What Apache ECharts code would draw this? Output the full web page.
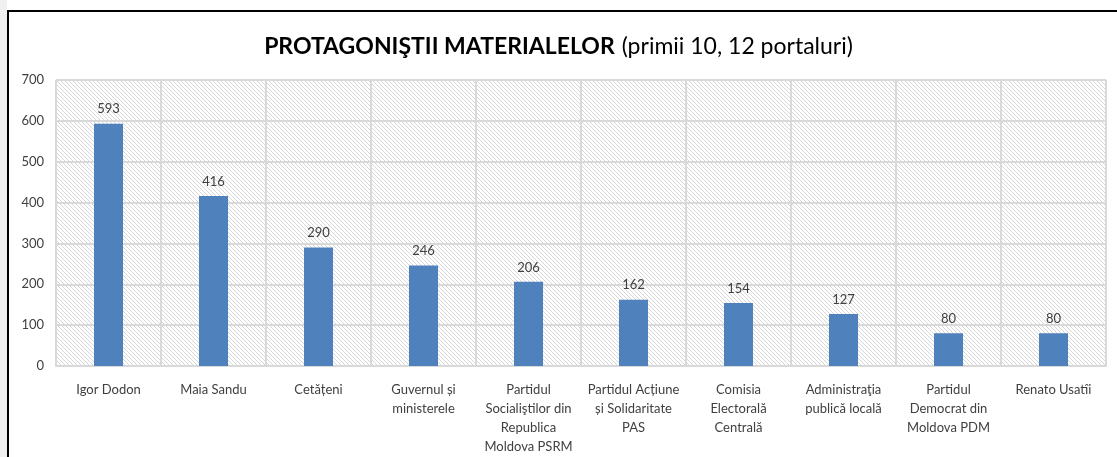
<!DOCTYPE html>
<html>
<head>
<meta charset="utf-8">
<script src="https://cdn.jsdelivr.net/npm/echarts@6/dist/echarts.min.js"></script>
<style>
  html, body { margin: 0; padding: 0; background: #fff; }
  #chart { width: 1117px; height: 457px; }
</style>
</head>
<body>
<div id="chart"></div>
<script>
const categories = [
  'Igor Dodon',
  'Maia Sandu',
  'Cetățeni',
  'Guvernul și\nministerele',
  'Partidul\nSocialiştilor din\nRepublica\nMoldova PSRM',
  'Partidul Acțiune\nși Solidaritate\nPAS',
  'Comisia\nElectorală\nCentrală',
  'Administraţia\npublică locală',
  'Partidul\nDemocrat din\nMoldova PDM',
  'Renato Usatîi'
];
const values = [593, 416, 290, 246, 206, 162, 154, 127, 80, 80];
const yTicks = { min: 0, max: 700, interval: 100 };

// hatched background of the plot area
function hatch() {
  const c = document.createElement('canvas');
  c.width = 4; c.height = 4;
  const g = c.getContext('2d');
  g.fillStyle = '#ffffff';
  g.fillRect(0, 0, 4, 4);
  g.strokeStyle = '#d6d6d6';
  g.lineWidth = 1;
  g.beginPath();
  g.moveTo(-1, -1); g.lineTo(5, 5);
  g.moveTo(-1, 3); g.lineTo(1, 5);
  g.moveTo(3, -1); g.lineTo(5, 1);
  g.stroke();
  return c;
}

const font = 'Lato, "Open Sans", sans-serif';
const chart = echarts.init(document.getElementById('chart'));
chart.setOption({
  animation: false,
  textStyle: { fontFamily: font },
  title: {
    text: '{b|PROTAGONIŞTII MATERIALELOR}{n|(primii 10, 12 portaluri)}',
    left: 'center',
    top: 30,
    textStyle: {
      rich: {
        b: { fontFamily: font, fontSize: 23, fontWeight: 'bold', color: '#000' },
        n: { fontFamily: font, fontSize: 23, fontWeight: 'normal', color: '#000', padding: [0, 0, 0, 7] }
      }
    }
  },
  graphic: [
    { type: 'rect', shape: { x: 0, y: 0, width: 7, height: 457 }, style: { fill: '#f0f0f0' }, silent: true },
    { type: 'rect', shape: { x: 8, y: 11, width: 1120, height: 470 }, style: { fill: 'none', stroke: '#000', lineWidth: 2 }, silent: true }
  ],
  grid: {
    left: 56, right: 11, top: 80, bottom: 91,
    show: true,
    borderWidth: 0,
    backgroundColor: { image: hatch(), repeat: 'repeat' }
  },
  xAxis: {
    type: 'category',
    data: categories,
    axisLine: { lineStyle: { color: '#d9d9d9', width: 2 } },
    axisTick: { show: false },
    splitLine: { show: true, interval: 0, lineStyle: { color: '#d9d9d9', width: 2 } },
    axisLabel: { interval: 0, color: '#404040', fontSize: 13, lineHeight: 19, margin: 14, fontFamily: font }
  },
  yAxis: {
    type: 'value',
    min: yTicks.min, max: yTicks.max, interval: yTicks.interval,
    axisLine: { show: false },
    axisTick: { show: false },
    splitLine: { lineStyle: { color: '#d9d9d9', width: 2 } },
    axisLabel: { color: '#404040', fontSize: 13, margin: 12, fontFamily: font }
  },
  series: [{
    type: 'bar',
    data: values,
    barWidth: 29,
    itemStyle: { color: '#4f81bd' },
    label: { show: true, position: 'top', distance: 8, color: '#404040', fontSize: 13, fontFamily: font }
  }]
});
</script>
</body>
</html>
